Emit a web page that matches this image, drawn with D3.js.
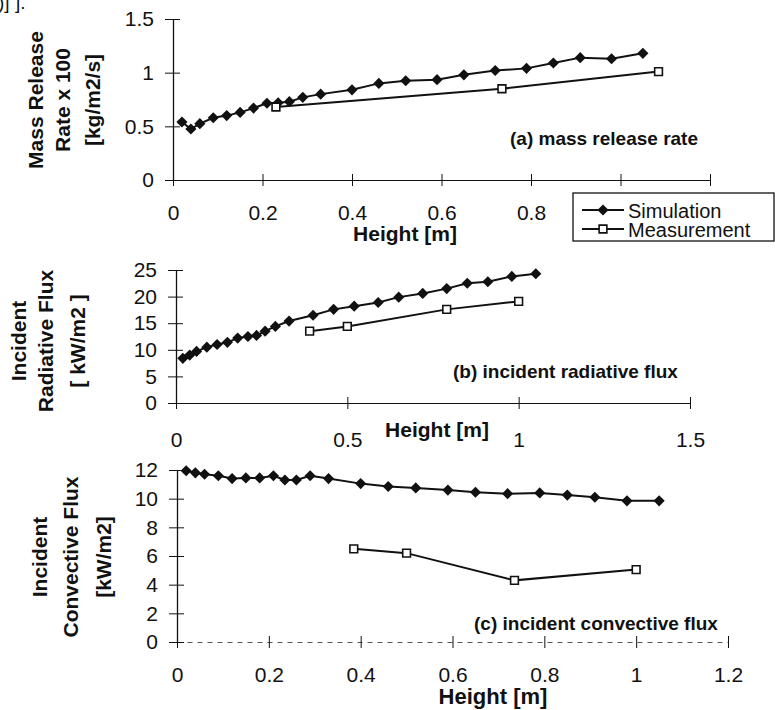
<!DOCTYPE html>
<html>
<head>
<meta charset="utf-8">
<script src="https://cdn.jsdelivr.net/npm/d3@7"></script>
<style>
  body { margin: 0; background: #fff; }
  text { font-family: "Liberation Sans", Arial, sans-serif; fill: #111; }
</style>
</head>
<body>
<svg id="chart" width="775" height="710"></svg>
<script>
// simulation heights, shared by the three panels
const simHeight = [0.02, 0.04, 0.06, 0.09, 0.12, 0.15, 0.18, 0.21, 0.235, 0.26, 0.29, 0.33,
                   0.40, 0.46, 0.52, 0.59, 0.65, 0.72, 0.79, 0.85, 0.91, 0.98, 1.05]

// (a) mass release rate x 100 [kg/m2/s]
const simMass = [0.54, 0.475, 0.525, 0.58, 0.6, 0.63, 0.67, 0.715, 0.72, 0.73, 0.77, 0.8,
                 0.84, 0.9, 0.925, 0.935, 0.98, 1.02, 1.04, 1.09, 1.14, 1.13, 1.18]
const measHeightA = [0.23, 0.735, 1.085]
const measMass = [0.68, 0.85, 1.01]

// (b) incident radiative flux [kW/m2]
const simRad = [8.4, 9.0, 9.7, 10.5, 11.0, 11.4, 12.2, 12.5, 12.7, 13.5, 14.4, 15.4,
                16.5, 17.6, 18.2, 18.9, 19.9, 20.6, 21.5, 22.5, 22.8, 23.8, 24.3]
const measHeightB = [0.39, 0.5, 0.79, 1.0]
const measRad = [13.5, 14.4, 17.6, 19.1]

// (c) incident convective flux [kW/m2]
const simConv = [11.95, 11.8, 11.7, 11.6, 11.4, 11.45, 11.45, 11.6, 11.3, 11.3, 11.6, 11.4,
                 11.05, 10.85, 10.75, 10.6, 10.45, 10.35, 10.4, 10.25, 10.1, 9.85, 9.85]
const measHeightC = [0.385, 0.5, 0.735, 1.0]
const measConv = [6.5, 6.2, 4.3, 5.05]

// tick values (panel (a) labels stop at 0.8, the legend sits over the rest)
const ticksAx = [0, 0.2, 0.4, 0.6, 0.8, 1, 1.2]
const labelsAx = [0, 0.2, 0.4, 0.6, 0.8]
const ticksAy = [0, 0.5, 1, 1.5]
const ticksBx = [0, 0.5, 1, 1.5]
const ticksBy = [0, 5, 10, 15, 20, 25]
const ticksCx = [0, 0.2, 0.4, 0.6, 0.8, 1, 1.2]
const ticksCy = [0, 2, 4, 6, 8, 10, 12]

const svg = d3.select("#chart")
const fmt = d3.format("~g")
const diamond = d3.symbol().type(d3.symbolSquare).size(62)
const square = d3.symbol().type(d3.symbolSquare).size(60)

// scrap of the page text at the top-left corner
svg.append("text").attr("x", -2).attr("y", 9).attr("font-size", 19).text(")] ].")

function panel(p) {
    const x = d3.scaleLinear().domain(p.xDomain).range(p.xRange)
    const y = d3.scaleLinear().domain(p.yDomain).range(p.yRange)
    const g = svg.append("g")
    const shown = p.xLabels || p.xTicks

    const xa = g.append("g")
        .attr("transform", `translate(0,${y(0)})`)
        .call(d3.axisBottom(x).tickValues(p.xTicks).tickSizeOuter(0)
            .tickFormat(d => shown.includes(d) ? fmt(d) : ""))
        .attr("font-size", 21)
    xa.selectAll(".tick line").attr("y1", -6).attr("y2", 6).attr("stroke", "#111")
    xa.selectAll(".tick text").attr("y", p.xLabelY)
    xa.select(".domain").attr("stroke", "#111").attr("stroke-width", 1.2)
    if (p.dashedX) xa.select(".domain").attr("stroke", "#555").attr("stroke-dasharray", "5,5")

    const ya = g.append("g")
        .attr("transform", `translate(${x(0)},0)`)
        .call(d3.axisLeft(y).tickValues(p.yTicks).tickFormat(fmt).tickSizeOuter(0))
        .attr("font-size", 21)
    ya.selectAll(".tick line").attr("x1", -8).attr("x2", 7).attr("stroke", "#111")
    ya.selectAll(".tick text").attr("x", -19)
    ya.select(".domain").attr("stroke", "#111").attr("stroke-width", 1.3)

    const line = d3.line().x(d => x(d[0])).y(d => y(d[1]))
    const sim = d3.zip(simHeight, p.sim)
    const meas = d3.zip(p.measX, p.meas)

    g.append("path").attr("d", line(sim))
        .attr("fill", "none").attr("stroke", "#111").attr("stroke-width", 2)
    g.selectAll(".sim").data(sim).join("path")
        .attr("d", diamond)
        .attr("transform", d => `translate(${x(d[0])},${y(d[1])}) rotate(45)`)
        .attr("fill", "#111")

    g.append("path").attr("d", line(meas))
        .attr("fill", "none").attr("stroke", "#111").attr("stroke-width", 2)
    g.selectAll(".meas").data(meas).join("path")
        .attr("d", square)
        .attr("transform", d => `translate(${x(d[0])},${y(d[1])})`)
        .attr("fill", "#fff").attr("stroke", "#111").attr("stroke-width", 1.6)

    // rotated y title, one text per line
    p.yTitle.forEach((t, i) => {
        g.append("text")
            .attr("transform", `translate(${p.yTitleX[i]},${p.yTitleY}) rotate(-90)`)
            .attr("dy", "0.36em")
            .attr("text-anchor", "middle")
            .attr("font-size", 21).attr("font-weight", "bold")
            .text(t)
    })

    g.append("text")
        .attr("x", p.xTitlePos[0]).attr("y", p.xTitlePos[1])
        .attr("text-anchor", "middle")
        .attr("font-size", p.xTitleSize).attr("font-weight", "bold")
        .text("Height [m]")

    g.append("text")
        .attr("x", p.notePos[0]).attr("y", p.notePos[1])
        .attr("font-size", 19).attr("font-weight", "bold")
        .text(p.note)
}

panel({
    xDomain: [0, 1.2], xRange: [173, 710],
    yDomain: [0, 1.5], yRange: [180, 19],
    xTicks: ticksAx, xLabels: labelsAx, yTicks: ticksAy, xLabelY: 25,
    sim: simMass, measX: measHeightA, meas: measMass,
    yTitle: ["Mass Release", "Rate x 100", "[kg/m2/s]"], yTitleX: [35, 62.5, 92], yTitleY: 100,
    xTitlePos: [405, 241], xTitleSize: 21,
    note: "(a) mass release rate", notePos: [510, 145]
})

panel({
    xDomain: [0, 1.5], xRange: [176, 690],
    yDomain: [0, 25], yRange: [403, 270],
    xTicks: ticksBx, yTicks: ticksBy, xLabelY: 29,
    sim: simRad, measX: measHeightB, meas: measRad,
    yTitle: ["Incident", "Radiative Flux", "[ kW/m2 ]"], yTitleX: [18, 45, 77], yTitleY: 341,
    xTitlePos: [437, 437], xTitleSize: 21,
    note: "(b) incident radiative flux", notePos: [453, 378]
})

panel({
    xDomain: [0, 1.2], xRange: [177, 728],
    yDomain: [0, 12], yRange: [642, 470],
    xTicks: ticksCx, yTicks: ticksCy, xLabelY: 25, dashedX: true,
    sim: simConv, measX: measHeightC, meas: measConv,
    yTitle: ["Incident", "Convective Flux", "[kW/m2]"], yTitleX: [39, 70, 103], yTitleY: 557,
    xTitlePos: [493, 704], xTitleSize: 22,
    note: "(c) incident convective flux", notePos: [474, 630]
})

// legend
const legend = svg.append("g")
legend.append("rect").attr("x", 573).attr("y", 193).attr("width", 201).attr("height", 48)
    .attr("fill", "#fff").attr("stroke", "#111").attr("stroke-width", 1.3)
const items = [
    {label: "Simulation", y: 210, mark: diamond, rot: 45, fill: "#111"},
    {label: "Measurement", y: 229, mark: square, rot: 0, fill: "#fff"}
]
items.forEach(it => {
    legend.append("line").attr("x1", 582).attr("x2", 624).attr("y1", it.y).attr("y2", it.y)
        .attr("stroke", "#111").attr("stroke-width", 2)
    legend.append("path").attr("d", it.mark)
        .attr("transform", `translate(603,${it.y}) rotate(${it.rot})`)
        .attr("fill", it.fill).attr("stroke", "#111").attr("stroke-width", it.rot ? 0 : 1.6)
    legend.append("text").attr("x", 628).attr("y", it.y + 8)
        .attr("font-size", 20).text(it.label)
})
</script>
</body>
</html>
